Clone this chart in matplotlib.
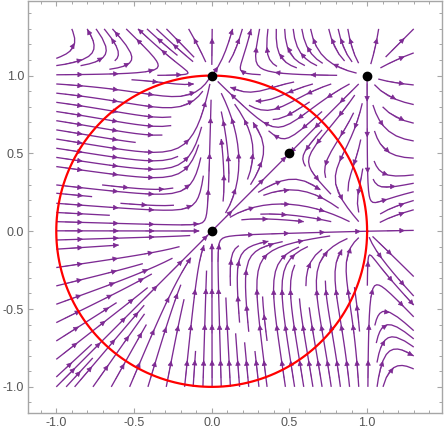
import numpy as np
import matplotlib
matplotlib.use('Agg')
import matplotlib.pyplot as plt
from matplotlib.patches import FancyArrowPatch
from matplotlib.ticker import MultipleLocator, FormatStrFormatter

plt.rcParams['font.family'] = ['Liberation Sans', 'DejaVu Sans']

# stream region and frame range
xRange = [-1.0, 1.3]
yRange = [-1.0, 1.3]
xLimits = [-1.18, 1.48]
yLimits = [-1.17, 1.48]

# marked equilibrium points
pointsX = [0.0, 0.0, 1.0, 0.5]
pointsY = [0.0, 1.0, 1.0, 0.5]

# red circle
circleRadius = 1.0

majorTicks = [-1.0, -0.5, 0.0, 0.5, 1.0]

streamColor = '#7d2a93'
frameColor = '#a6a6a6'
labelColor = '#555555'


def field(x, y):
    # symmetric system: invariant lines x=0, x=1, y=0, y=1
    hx = x * (x - 1) + y ** 2 * (1 + x - y)
    hy = y * (y - 1) + x ** 2 * (1 + y - x)
    return x * (x - 1) * hx, y * (y - 1) * hy


fig = plt.figure(figsize=(4.45, 4.36), dpi=100)
ax = fig.add_axes([0.0636, 0.052, 0.9290, 0.946])
ax.set_xlim(xLimits)
ax.set_ylim(yLimits)

gx = np.linspace(xRange[0], xRange[1], 200)
gy = np.linspace(yRange[0], yRange[1], 200)
X, Y = np.meshgrid(gx, gy)
U, V = field(X, Y)

sp = ax.streamplot(X, Y, U, V, density=1.35, color=streamColor, linewidth=0.95,
                   arrowsize=0.1, zorder=2)
ax.set_xlim(xLimits)
ax.set_ylim(yLimits)

# drop the single default arrow, put several heads along every streamline
for p in list(ax.patches):
    p.remove()

segs = [np.asarray(s) for s in sp.lines.get_segments() if len(s) > 1]
paths = []
cur = list(segs[0])
for s in segs[1:]:
    if np.allclose(s[0], cur[-1]):
        cur.extend(s[1:])
    else:
        paths.append(np.array(cur))
        cur = list(s)
paths.append(np.array(cur))

spacing = 38.0
for path in paths:
    pix = ax.transData.transform(path)
    d = np.r_[0, np.cumsum(np.hypot(*np.diff(pix, axis=0).T))]
    total = d[-1]
    if total < 12:
        continue
    pos = np.arange(min(spacing * 0.55, total * 0.6), total, spacing)
    for s in pos:
        i = int(np.searchsorted(d, s))
        i = max(1, min(i, len(d) - 1))
        j = max(0, int(np.searchsorted(d, s - 4.0)) - 1)
        if j >= i:
            j = i - 1
        tail = path[j]
        head = path[i]
        if np.allclose(tail, head):
            continue
        ax.add_patch(FancyArrowPatch(tail, head, arrowstyle='-|>',
                                     mutation_scale=8, color=streamColor,
                                     linewidth=0.5, shrinkA=0, shrinkB=0,
                                     zorder=2))

t = np.linspace(0, 2 * np.pi, 400)
ax.plot(circleRadius * np.cos(t), circleRadius * np.sin(t), color='red',
        linewidth=1.6, zorder=3)

ax.plot(pointsX, pointsY, 'o', color='black', markersize=6, zorder=4)

ax.xaxis.set_major_locator(plt.FixedLocator(majorTicks))
ax.yaxis.set_major_locator(plt.FixedLocator(majorTicks))
ax.xaxis.set_minor_locator(MultipleLocator(0.1))
ax.yaxis.set_minor_locator(MultipleLocator(0.1))
ax.xaxis.set_major_formatter(FormatStrFormatter('%.1f'))
ax.yaxis.set_major_formatter(FormatStrFormatter('%.1f'))

ax.tick_params(which='both', direction='in', top=True, right=True,
               color=frameColor, labelcolor=labelColor, labelsize=9)
ax.tick_params(which='major', length=3.5, width=0.8, pad=3)
ax.tick_params(which='minor', length=2.0, width=0.7)
for spine in ax.spines.values():
    spine.set_color(frameColor)
    spine.set_linewidth(1.0)

fig.savefig('out.png', dpi=100)
